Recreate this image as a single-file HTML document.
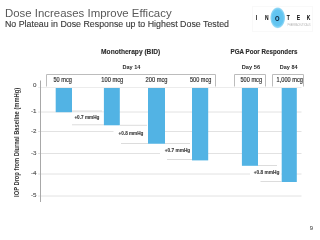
<!DOCTYPE html>
<html><head><meta charset="utf-8">
<style>
html,body{margin:0;padding:0;background:#fff;}
body{width:320px;height:240px;overflow:hidden;position:relative;font-family:"Liberation Sans",sans-serif;}
svg{position:absolute;left:0;top:0;will-change:transform;}
</style></head><body>
<svg width="320" height="240" viewBox="0 0 320 240" font-family="Liberation Sans, sans-serif">
  <!-- title -->
  <text x="5" y="16.9" font-size="11.2" fill="#595959" textLength="166.6" lengthAdjust="spacingAndGlyphs">Dose Increases Improve Efficacy</text>
  <text x="5" y="26.9" font-size="8.8" fill="#383838" stroke="#383838" stroke-width="0.12" textLength="224" lengthAdjust="spacingAndGlyphs">No Plateau in Dose Response up to Highest Dose Tested</text>

  <!-- logo -->
  <defs>
    <radialGradient id="lg" cx="50%" cy="50%" r="50%">
      <stop offset="0%" stop-color="#5cc0ef"/>
      <stop offset="72%" stop-color="#64c6f1"/>
      <stop offset="88%" stop-color="#7ccff3" stop-opacity="0.85"/>
      <stop offset="100%" stop-color="#b5e3f8" stop-opacity="0"/>
    </radialGradient>
  </defs>
  <rect x="252.5" y="6.5" width="60" height="25" fill="none" stroke="#f9f9f9" stroke-width="1"/>
  <ellipse cx="277.7" cy="17.8" rx="7.8" ry="11" fill="url(#lg)"/>
  <g font-size="8" font-weight="bold" fill="#111" stroke="#111" stroke-width="0.1">
    <text transform="translate(256.5,20.3) scale(0.62,1)" text-anchor="middle">I</text>
    <text transform="translate(266.8,20.3) scale(0.62,1)" text-anchor="middle">N</text>
    <text transform="translate(277.3,20.8) scale(0.72,0.95)" text-anchor="middle" fill="#0a2540">O</text>
    <text transform="translate(288.3,20.3) scale(0.62,1)" text-anchor="middle">T</text>
    <text transform="translate(298.5,20.3) scale(0.62,1)" text-anchor="middle">E</text>
    <text transform="translate(308.6,20.3) scale(0.62,1)" text-anchor="middle">K</text>
  </g>
  <text x="287.5" y="25.6" font-size="2.6" fill="#b4b4b4" textLength="23" lengthAdjust="spacingAndGlyphs">PHARMACEUTICALS</text>
  <!-- headers -->
  <g font-weight="bold" fill="#2b2b2b" stroke="#2b2b2b" stroke-width="0.12">
    <text x="101.1" y="54.1" font-size="6.9" textLength="59.1" lengthAdjust="spacingAndGlyphs">Monotherapy (BID)</text>
    <text x="230.5" y="54.1" font-size="6.9" textLength="67" lengthAdjust="spacingAndGlyphs">PGA Poor Responders</text>
    <text x="122.4" y="68.9" font-size="6.0" textLength="18" lengthAdjust="spacingAndGlyphs" stroke="none">Day 14</text>
    <text x="241.75" y="68.9" font-size="6.0" textLength="18.3" lengthAdjust="spacingAndGlyphs" stroke="none">Day 56</text>
    <text x="279.75" y="68.9" font-size="6.0" textLength="17.8" lengthAdjust="spacingAndGlyphs" stroke="none">Day 84</text>
  </g>

  <!-- gridlines -->
  <g stroke="#e2e2e2" stroke-width="1">
    <line x1="38" y1="87.5" x2="301.5" y2="87.5" stroke="#ececec"/>
    <line x1="38" y1="112" x2="301.5" y2="112"/>
    <line x1="38" y1="131.5" x2="301.5" y2="131.5"/>
    <line x1="38" y1="153.5" x2="301.5" y2="153.5"/>
    <line x1="38" y1="174" x2="301.5" y2="174"/>
    <line x1="38" y1="196" x2="301.5" y2="196"/>
  </g>
  <!-- axis -->
  <line x1="40.5" y1="80.5" x2="40.5" y2="202" stroke="#a8a8a8" stroke-width="1"/>

  <!-- y labels -->
  <g font-size="6.2" fill="#555" stroke="#555" stroke-width="0.15" text-anchor="end">
    <text x="36.5" y="86.8">0</text>
    <text x="36.5" y="112.9">-1</text>
    <text x="36.5" y="132.6">-2</text>
    <text x="36.5" y="155.1">-3</text>
    <text x="36.5" y="174.8">-4</text>
    <text x="36.5" y="196.8">-5</text>
  </g>
  <!-- y title -->
  <text transform="translate(19.4,196.9) rotate(-90)" x="0" y="0" font-size="6.5" font-weight="bold" fill="#363636" textLength="109" lengthAdjust="spacingAndGlyphs">IOP Drop  from Diurnal Baseline (mmHg)</text>

  <!-- boxes -->
  <g fill="none" stroke="#bcbcbc" stroke-width="1">
    <path d="M46.5 86.5 V74.5 H215.5 V86.5"/>
    <path d="M234.5 86.5 V74.5 H265.5 V86.5"/>
    <path d="M272.5 86.5 V74.5 H303.5 V86.5"/>
  </g>
  <g font-size="6.4" fill="#333" stroke="#333" stroke-width="0.18">
    <text x="53.5" y="82.2" textLength="18.4" lengthAdjust="spacingAndGlyphs">50 mcg</text>
    <text x="101.25" y="82.2" textLength="22" lengthAdjust="spacingAndGlyphs">100 mcg</text>
    <text x="145.6" y="82.2" textLength="21.9" lengthAdjust="spacingAndGlyphs">200 mcg</text>
    <text x="190" y="82.2" textLength="21.25" lengthAdjust="spacingAndGlyphs">500 mcg</text>
    <text x="240.5" y="82.2" textLength="21.5" lengthAdjust="spacingAndGlyphs">500 mcg</text>
    <text x="276.6" y="82.2" textLength="26.3" lengthAdjust="spacingAndGlyphs">1,000 mcg</text>
  </g>

  <!-- annotation backgrounds -->
  <g fill="#fff">
    <rect x="71" y="112.5" width="33" height="12"/>
    <rect x="113.5" y="126" width="34.5" height="17"/>
    <rect x="160" y="144" width="32" height="15"/>
    <rect x="250" y="166" width="31.5" height="15"/>
  </g>
  <!-- annotation lines -->
  <g stroke="#dcdcdc" stroke-width="1">
    <line x1="72" y1="111" x2="102" y2="111"/>
    <line x1="72" y1="124.8" x2="104" y2="124.8"/>
    <line x1="120" y1="125.3" x2="147" y2="125.3"/>
    <line x1="121" y1="143.5" x2="148" y2="143.5"/>
    <line x1="165" y1="143.5" x2="190" y2="143.5"/>
    <line x1="167" y1="159.5" x2="192" y2="159.5"/>
    <line x1="258" y1="165.5" x2="277" y2="165.5"/>
    <line x1="260.5" y1="181.5" x2="281.5" y2="181.5"/>
  </g>
  <g font-size="4.6" font-weight="bold" fill="#3a3a3a" stroke="#3a3a3a" stroke-width="0.1">
    <text x="74.4" y="119.3" textLength="25" lengthAdjust="spacingAndGlyphs">+0.7 mmHg</text>
    <text x="118.6" y="134.9" textLength="24.8" lengthAdjust="spacingAndGlyphs">+0.8 mmHg</text>
    <text x="164.8" y="152.2" textLength="25.4" lengthAdjust="spacingAndGlyphs">+0.7 mmHg</text>
    <text x="253.8" y="174.2" textLength="25.6" lengthAdjust="spacingAndGlyphs">+0.8 mmHg</text>
  </g>

  <!-- bars -->
  <g fill="#52b3e4">
    <rect x="55.7" y="88" width="16.3" height="24.2"/>
    <rect x="103.9" y="88" width="15.9" height="37.3"/>
    <rect x="148" y="88" width="17" height="55.75"/>
    <rect x="192" y="88" width="16.2" height="72.4"/>
    <rect x="241.9" y="88" width="16.1" height="77.8"/>
    <rect x="281.7" y="88" width="15.1" height="94"/>
  </g>

  <!-- page number -->
  <text x="309.8" y="230.2" font-size="6" fill="#666" stroke="#666" stroke-width="0.15">9</text>
</svg>
</body></html>
